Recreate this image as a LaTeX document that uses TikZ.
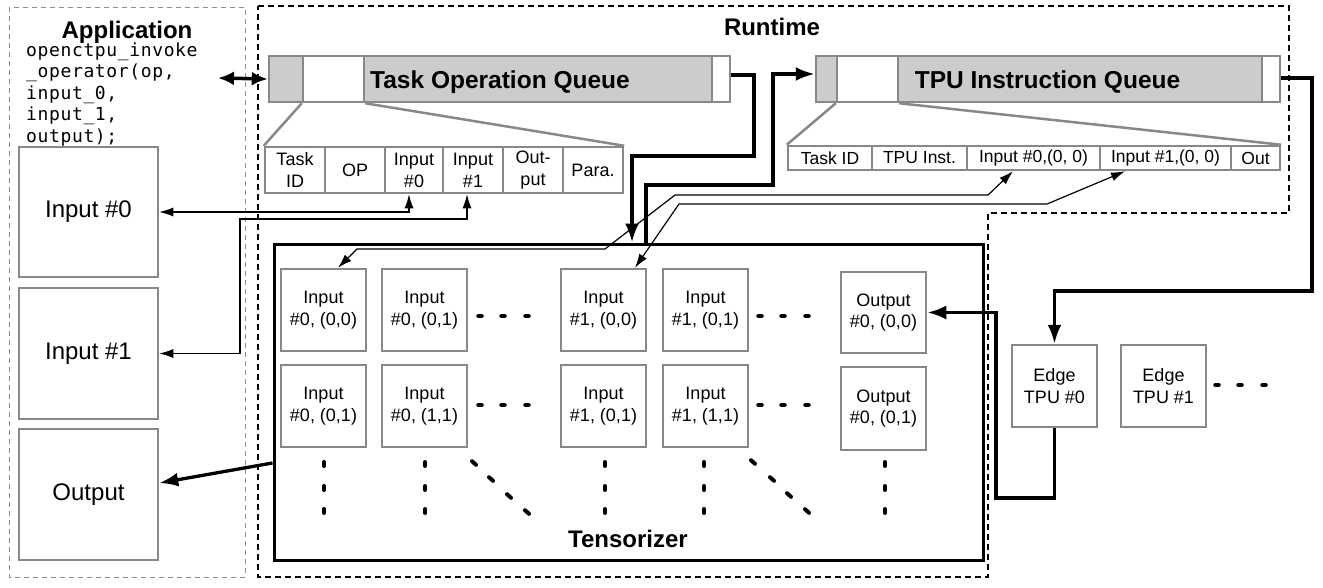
\documentclass[tikz,border=0pt]{standalone}
\usepackage{fontspec}
\setmainfont{Liberation Sans}
\newfontfamily\codefont[LetterSpace=3.5]{DejaVu Sans Mono}
\usetikzlibrary{arrows.meta}
\definecolor{bgray}{RGB}{136,136,136}
\definecolor{bfill}{RGB}{204,204,204}
\definecolor{dgray}{RGB}{140,140,140}
\tikzset{
  gbox/.style={draw=bgray, line width=2.5pt, fill=white, inner sep=0pt, align=center},
  tile/.style={gbox, minimum width=85pt, minimum height=82pt, font=\fontsize{18}{21.5}\selectfont},
  appbox/.style={gbox, minimum width=139pt, font=\fontsize{24}{28}\selectfont},
  fld/.style={gbox, minimum height=46pt, font=\fontsize{18}{22}\selectfont},
  tfld/.style={gbox, minimum height=24pt, font=\fontsize{17.5}{20}\selectfont},
  bar/.style={draw=bgray, fill=bfill, line width=2.5pt, minimum height=46pt, inner sep=0pt},
  wbox/.style={draw=bgray, fill=white, line width=2.5pt, minimum height=46pt, inner sep=0pt},
  title/.style={font=\bfseries\fontsize{24}{28}\selectfont, inner sep=0pt, anchor=base},
  qtitle/.style={font=\bfseries\fontsize{24.5}{28}\selectfont, inner sep=0pt, anchor=base},
  code/.style={font=\codefont\fontsize{18}{21.7}\selectfont, inner sep=0pt, anchor=base west},
  thickln/.style={line width=3.3pt, -{Latex[length=19pt,width=14pt]}},
  dblln/.style={line width=3.5pt, {Latex[length=16pt,width=14pt]}-{Latex[length=16pt,width=14pt]}},
  thinln/.style={line width=1.2pt, {Latex[length=14pt,width=9pt]}-{Latex[length=14pt,width=9pt]}},
  expln/.style={draw=bgray, line width=2.5pt},
  dotln/.style={line width=4.5pt, line cap=round},
}
\begin{document}
\begin{tikzpicture}[x=1pt,y=-1pt]
\useasboundingbox (0,0) rectangle (1323,587);

% dashed regions
\draw[dgray, line width=1pt, dash pattern=on 5pt off 4pt] (9,7) rectangle (245,577);
\draw[black, line width=1.2pt, dash pattern=on 6pt off 4pt]
  (258,6) -- (1289,6) -- (1289,213) -- (988,213) -- (988,577) -- (258,577) -- cycle;

% titles
\node[title] (tapp) at (127,38) {Application};
\node[title] (trun) at (772,35) {Runtime};

% code
\node[code] (c1) at (26,56) {openctpu\_invoke};
\node[code] (c2) at (26,77.5) {\_operator(op,};
\node[code] (c3) at (26,99) {input\_0,};
\node[code] (c4) at (26,120.5) {input\_1,};
\node[code] (c5) at (26,142) {output);};

% application boxes
\node[appbox, minimum height=130pt] (in0) at (88.5,212) {Input \#0};
\node[appbox, minimum height=131pt] (in1) at (88.5,353.5) {Input \#1};
\node[appbox, minimum height=131pt] (oapp) at (88.5,494.5) {Output};

% task operation queue
\node[bar, minimum width=461pt] (tq) at (499.5,79) {};
\node[wbox, minimum width=61pt] (tqw) at (333.5,79) {};
\node[wbox, minimum width=18pt] (tqr) at (721,79) {};
\node[qtitle] (tqt) at (500,88) {Task Operation Queue};

% task fields
\node[fld, minimum width=60pt] (f1) at (295,170) {Task\\ID};
\node[fld, minimum width=60pt] (f2) at (355,170) {OP};
\node[fld, minimum width=58pt] (f3) at (414,170) {Input\\\#0};
\node[fld, minimum width=60pt] (f4) at (473,170) {Input\\\#1};
\node[fld, minimum width=60pt] (f5) at (533,170) {Out-\\put};
\node[fld, minimum width=60pt] (f6) at (593,170) {Para.};
\draw[expln] (tqw.south west) -- (f1.north west);
\draw[expln] (tqw.south east) -- (f6.north east);

% TPU instruction queue
\node[bar, minimum width=464pt] (tpu) at (1048,79) {};
\node[wbox, minimum width=61pt] (tpuw) at (867.5,79) {};
\node[wbox, minimum width=18pt] (tpur) at (1271,79) {};
\node[qtitle] (tpt) at (1047.5,88) {TPU Instruction Queue};

% TPU fields
\node[tfld, minimum width=84pt] (tf1) at (830,158) {Task ID};
\node[tfld, minimum width=95pt] (tf2) at (919.5,158) {TPU Inst.};
\node[tfld, minimum width=133pt] (tf3) at (1033.5,158) {Input \#0,(0, 0)};
\node[tfld, minimum width=131pt] (tf4) at (1165.5,158) {Input \#1,(0, 0)};
\node[tfld, minimum width=49pt] (tf5) at (1255.5,158) {Out};
\draw[expln] (tpuw.south west) -- (tf1.north west);
\draw[expln] (tpuw.south east) -- (tf5.north east);

% tensorizer
\node[draw=black, line width=3pt, minimum width=709pt, minimum height=316pt, inner sep=0pt] (tens) at (628.5,402) {};
\node[title] (ttens) at (628,547) {Tensorizer};

% tiles
\node[tile] (t11) at (323.5,310) {Input\\\#0, (0,0)};
\node[tile] (t12) at (424.5,310) {Input\\\#0, (0,1)};
\node[tile] (t13) at (603.5,310) {Input\\\#1, (0,0)};
\node[tile] (t14) at (705.5,310) {Input\\\#1, (0,1)};
\node[tile, minimum height=81pt] (o1) at (883.5,312.5) {Output\\\#0, (0,0)};
\node[tile] (t21) at (323.5,406) {Input\\\#0, (0,1)};
\node[tile] (t22) at (424.5,406) {Input\\\#0, (1,1)};
\node[tile] (t23) at (603.5,406) {Input\\\#1, (0,1)};
\node[tile] (t24) at (705.5,406) {Input\\\#1, (1,1)};
\node[tile, minimum height=83pt] (o2) at (883.5,408.5) {Output\\\#0, (0,1)};

% edge TPUs
\node[tile] (e0) at (1054.5,386) {Edge\\TPU \#0};
\node[tile] (e1) at (1163.5,386) {Edge\\TPU \#1};

% dots
\foreach \x in {480,503,527,760,783,807} {
  \draw[dotln] (\x-1.5,316) -- (\x+1.5,316);
  \draw[dotln] (\x-1.5,405) -- (\x+1.5,405);
}
\foreach \x in {1217,1240,1264} {
  \draw[dotln] (\x-1.5,385) -- (\x+1.5,385);
}
\foreach \x in {324,425,605,704,885} {
  \foreach \y in {464,488,511} {
    \draw[line width=4pt, line cap=round] (\x,\y-2) -- (\x,\y+2);
  }
}
\foreach \x/\y in {474/463,491/479,509/496,527/512,753/462,772/479,789/495,807/511} {
  \draw[line width=4pt, line cap=round] (\x-2,\y-1.8) -- (\x+2,\y+1.8);
}

% connectors
\coordinate (dl) at (218,78);
\draw[dblln] (dl) -- (tq.west);

\draw[thickln] ([yshift=4pt]tqr.east) -| (754,156) -| ([xshift=3.5pt]tens.north);
\draw[thickln] ([xshift=17.5pt]tens.north) |- (773,185) |- ([yshift=5pt]tpu.west);
\draw[thickln] ([yshift=1pt]tpur.east) -| (1312,291) -| (e0.north);
\draw[thickln] (e0.south) |- (996,498) |- (o1.east);
\draw[thickln] ([yshift=-61pt]tens.west) -- ([yshift=11.5pt]oapp.east);

\draw[thinln] ([xshift=-5pt]f3.south) |- (in0.east);
\draw[thinln] ([xshift=-6pt]f4.south) |- (240,219) |- (in1.east);

\draw[thinln] ([xshift=14.5pt]t11.north) -- (357,249) -- (605,249) -- (675,195) -- (988,195) -- ([xshift=-20.5pt]tf3.south);
\draw[thinln] ([xshift=31.5pt]t13.north) -- (679,204) -- (1047,204) -- ([xshift=-40.5pt]tf4.south);

\end{tikzpicture}
\end{document}
